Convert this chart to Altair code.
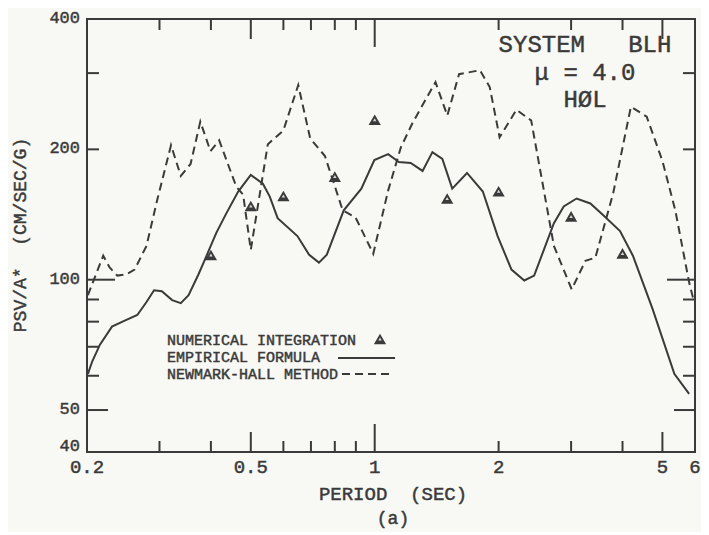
import altair as alt
import pandas as pd

# ---------------- data ----------------
emp_T = [0.201, 0.206, 0.215, 0.230, 0.247, 0.265, 0.279, 0.291, 0.304, 0.322,
         0.338, 0.353, 0.373, 0.384, 0.412, 0.436, 0.466, 0.500, 0.535, 0.556,
         0.581, 0.649, 0.693, 0.732, 0.765, 0.841, 0.928, 0.998, 1.078, 1.145,
         1.223, 1.307, 1.381, 1.460, 1.543, 1.676, 1.831, 1.989, 2.149, 2.309,
         2.440, 2.725, 2.879, 3.094, 3.342, 3.592, 3.945, 4.239, 4.732, 5.345, 5.806]
emp_V = [60.6, 64.8, 70.8, 77.9, 80.4, 82.9, 88.8, 94.5, 94.0, 89.7,
         88.3, 92.1, 102.8, 109.5, 128.1, 142.3, 159.8, 174.6, 166.6, 155.6,
         138.7, 126.1, 114.2, 109.5, 114.2, 144.6, 162.3, 189.0, 195.0, 187.0,
         186.0, 178.3, 197.1, 190.0, 162.3, 176.4, 159.8, 126.1, 105.5, 99.6,
         102.2, 135.1, 147.6, 154.0, 150.0, 140.9, 129.5, 113.6, 85.6, 60.6, 54.5]

nh_T = [0.201, 0.219, 0.227, 0.237, 0.249, 0.261, 0.279, 0.296, 0.320, 0.338,
        0.357, 0.377, 0.399, 0.419, 0.461, 0.479, 0.500, 0.526, 0.550, 0.600,
        0.652, 0.697, 0.757, 0.836, 0.898, 0.992, 1.078, 1.158, 1.237, 1.405,
        1.501, 1.603, 1.801, 1.903, 2.011, 2.210, 2.400, 2.725, 3.010, 3.251,
        3.436, 3.795, 4.192, 4.579, 5.001, 5.374, 5.806, 5.968]
nh_V = [92.1, 113.6, 106.7, 102.2, 102.8, 105.5, 119.7, 152.4, 204.4, 173.7,
        185.0, 231.8, 198.1, 209.8, 164.0, 157.2, 117.2, 158.1, 205.5, 221.2,
        281.5, 212.0, 193.0, 144.6, 139.3, 114.8, 160.6, 202.3, 230.6, 286.0,
        239.3, 298.2, 304.6, 278.6, 213.2, 246.9, 233.1, 119.7, 95.0, 110.6,
        112.4, 158.1, 250.8, 238.0, 188.0, 144.6, 98.6, 88.8]

ni_T = [0.4, 0.5, 0.6, 0.8, 1.0, 1.5, 2.0, 3.0, 4.0]
ni_V = [114, 148, 156, 173, 234, 154, 160, 140, 115]

x_label_values = [0.2, 0.5, 1, 2, 5, 6]
x_label_text = ["0.2", "0.5", "1", "2", "5", "6"]
y_label_values = [50, 100, 200, 400]
y_label_text = ["50", "100", "200", "400"]
y_bottom_value = [40]
y_bottom_text = ["40"]
x_ticks_short = [0.3, 0.4, 0.6, 0.7, 0.8, 0.9, 2, 3, 4]
x_ticks_mid = [0.5, 5]
x_ticks_long = [1]
y_ticks_short = [60, 70, 80, 90, 200, 300]
y_ticks_mid = [50]
y_ticks_long = [100]

NB = "\u00a0"
legend_labels = ["NUMERICAL INTEGRATION", "EMPIRICAL FORMULA", "NEWMARK-HALL METHOD"]
annotation = ["SYSTEM" + NB * 3 + "BLH", "\u03bc = 4.0", "H\u00d8L"]
x_title = "PERIOD" + NB * 2 + "(SEC)"
sub_title = "(a)"
y_title = "PSV/A*" + NB * 2 + "(CM/SEC/G)"

# ---------------- styling ----------------
INK = "#3a3a3a"
BG = "#f8f8f4"
FONT = "Liberation Mono"
W, H = 608, 433
TXT = dict(font=FONT, color=INK, stroke=INK, strokeWidth=0.45)

xscale = alt.Scale(type="log", domain=[0.2, 6], nice=False)
yscale = alt.Scale(type="log", domain=[40, 400], nice=False)


def X(field="T"):
    return alt.X(f"{field}:Q", scale=xscale, axis=None)


def Y(field="V"):
    return alt.Y(f"{field}:Q", scale=yscale, axis=None)


emp_df = pd.DataFrame({"T": emp_T, "V": emp_V})
nh_df = pd.DataFrame({"T": nh_T, "V": nh_V})
ni_df = pd.DataFrame({"T": ni_T, "V": ni_V})

emp = alt.Chart(emp_df).mark_line(color=INK, strokeWidth=2).encode(x=X(), y=Y())
nh = alt.Chart(nh_df).mark_line(color=INK, strokeWidth=2, strokeDash=[8, 5]).encode(x=X(), y=Y())
ni = alt.Chart(ni_df).mark_point(shape="triangle-up", filled=True, size=150,
                                 color=INK, opacity=1).encode(x=X(), y=Y())
ni_hole = alt.Chart(ni_df).mark_point(shape="triangle-up", filled=True, size=12,
                                      color="#d8d8d8", opacity=1).encode(x=X(), y=Y())
layers = [emp, nh, ni, ni_hole]

# frame tick marks (inward), bottom/top and left/right
for vals, L in [(x_ticks_short, 11), (x_ticks_mid, 20), (x_ticks_long, 28)]:
    df = pd.DataFrame({"T": vals})
    for y0, y1 in [(H, H - L), (0, L)]:
        layers.append(alt.Chart(df).mark_rule(color=INK, strokeWidth=2).encode(
            x=X(), y=alt.value(y0), y2=alt.value(y1)))
for vals, L in [(y_ticks_short, 12), (y_ticks_mid, 21), (y_ticks_long, 28)]:
    df = pd.DataFrame({"V": vals})
    for x0, x1 in [(0, L), (W, W - L)]:
        layers.append(alt.Chart(df).mark_rule(color=INK, strokeWidth=2).encode(
            y=Y(), x=alt.value(x0), x2=alt.value(x1)))

# tick labels placed through the scales
layers.append(alt.Chart(pd.DataFrame({"T": x_label_values, "label": x_label_text})).mark_text(
    fontSize=19, align="center", baseline="middle", **TXT).encode(
    x=X(), y=alt.value(H + 15), text="label:N"))
layers.append(alt.Chart(pd.DataFrame({"V": y_label_values, "label": y_label_text})).mark_text(
    fontSize=17, align="right", baseline="middle", dy=-1, **TXT).encode(
    y=Y(), x=alt.value(-7), text="label:N"))
layers.append(alt.Chart(pd.DataFrame({"V": y_bottom_value, "label": y_bottom_text})).mark_text(
    fontSize=17, align="right", baseline="middle", dy=-6, **TXT).encode(
    y=Y(), x=alt.value(-7), text="label:N"))

# axis titles
layers.append(alt.Chart(pd.DataFrame({"label": [x_title]})).mark_text(
    fontSize=19, align="center", baseline="middle", **TXT).encode(
    text="label:N", x=alt.value(306), y=alt.value(475)))
layers.append(alt.Chart(pd.DataFrame({"label": [sub_title]})).mark_text(
    fontSize=18, align="center", baseline="middle", **TXT).encode(
    text="label:N", x=alt.value(306), y=alt.value(500)))
layers.append(alt.Chart(pd.DataFrame({"label": [y_title]})).mark_text(
    fontSize=18, align="center", baseline="middle", angle=270, **TXT).encode(
    text="label:N", x=alt.value(-66), y=alt.value(216)))

# annotation (upper right)
for txt, yy in zip(annotation, [26, 54, 81]):
    layers.append(alt.Chart(pd.DataFrame({"label": [txt]})).mark_text(
        fontSize=24, align="center", baseline="middle", **TXT).encode(
        text="label:N", x=alt.value(498), y=alt.value(yy)))

# legend
for txt, yy in zip(legend_labels, [321, 338, 355]):
    layers.append(alt.Chart(pd.DataFrame({"label": [txt]})).mark_text(
        fontSize=15, align="left", baseline="middle", **TXT).encode(
        text="label:N", x=alt.value(80), y=alt.value(yy)))

leg_df = pd.DataFrame({"label": [legend_labels[0]]})
layers.append(alt.Chart(leg_df).mark_point(shape="triangle-up", filled=True, size=150,
                                           color=INK, opacity=1).encode(
    x=alt.value(293), y=alt.value(320)))
layers.append(alt.Chart(leg_df).mark_point(shape="triangle-up", filled=True, size=12,
                                           color="#d8d8d8", opacity=1).encode(
    x=alt.value(293), y=alt.value(320)))
layers.append(alt.Chart(leg_df).mark_rule(color=INK, strokeWidth=2).encode(
    x=alt.value(251), x2=alt.value(308), y=alt.value(339)))
layers.append(alt.Chart(leg_df).mark_rule(color=INK, strokeWidth=2, strokeDash=[8, 5]).encode(
    x=alt.value(255), x2=alt.value(305), y=alt.value(355)))

chart = alt.layer(*layers).properties(
    width=W, height=H,
    autosize=alt.AutoSizeParams(type="none"),
    padding={"left": 79, "top": 11, "right": 6, "bottom": 80},
    background=BG,
).configure_view(stroke=INK, strokeWidth=2)

chart.save("out.html", embed_options={"renderer": "svg", "actions": False})
